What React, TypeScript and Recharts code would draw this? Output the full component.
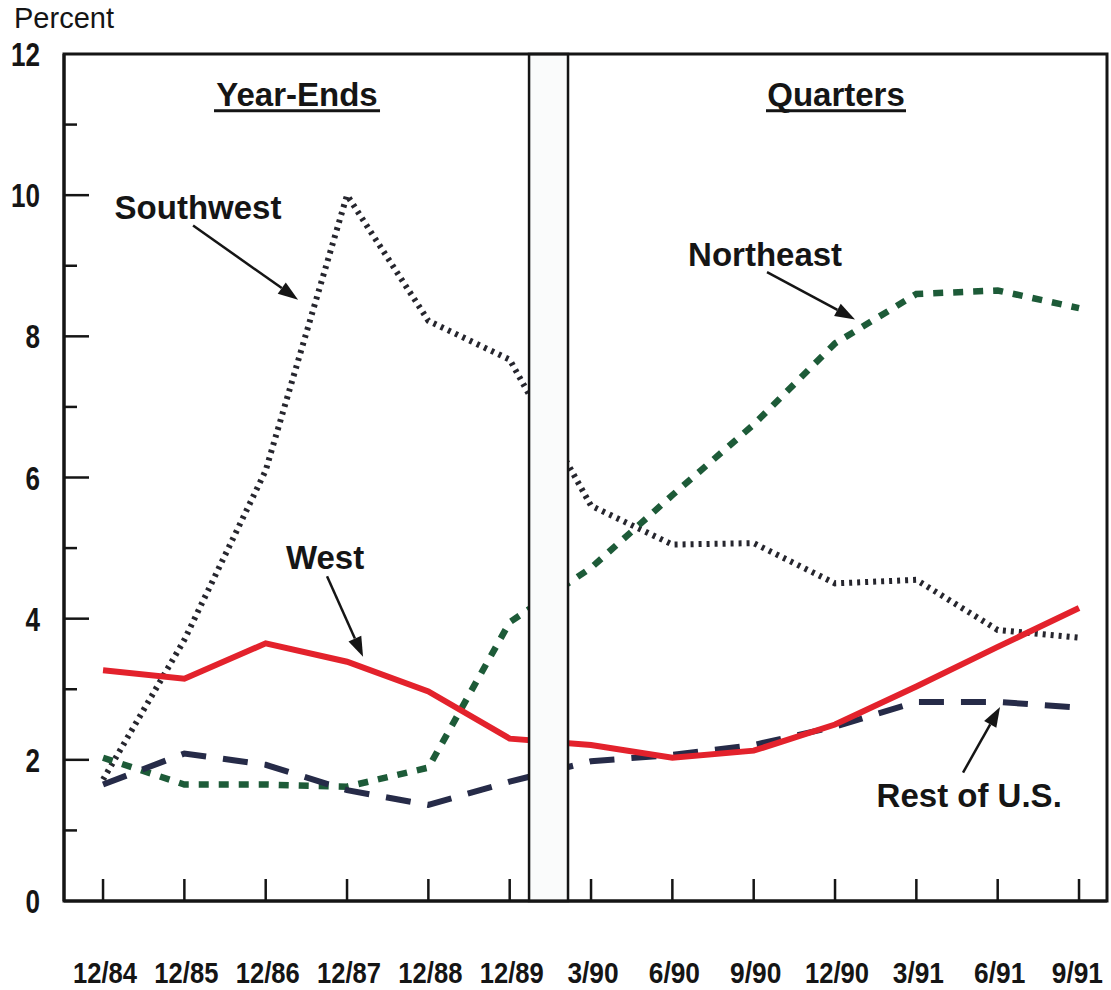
import React from 'react';
import {
  LineChart,
  Line,
  XAxis,
  YAxis,
  ReferenceArea,
  ReferenceLine,
  ReferenceDot,
} from 'recharts';

const periods = ['12/84', '12/85', '12/86', '12/87', '12/88', '12/89', '3/90', '6/90', '9/90', '12/90', '3/91', '6/91', '9/91'];
const southwest = [1.72, 3.7, 6.1, 10.0, 8.22, 7.67, 5.6, 5.05, 5.07, 4.5, 4.55, 3.84, 3.73];
const northeast = [2.03, 1.65, 1.65, 1.62, 1.89, 3.95, 4.72, 5.75, 6.75, 7.9, 8.6, 8.65, 8.4];
const west = [3.27, 3.15, 3.65, 3.39, 2.97, 2.3, 2.21, 2.03, 2.13, 2.5, 3.04, 3.6, 4.15];
const restOfUS = [1.65, 2.09, 1.93, 1.57, 1.36, 1.69, 1.98, 2.07, 2.21, 2.47, 2.82, 2.82, 2.74];

const yTicks = [0, 1, 2, 3, 4, 5, 6, 7, 8, 9, 10, 11, 12];

// the break between the year-end panel and the quarterly panel (in index units)
const gapStart = 5.238;
const gapEnd = 5.717;

const xDomain = [-0.48, 12.344];

const labels = [
  { text: 'Year-Ends', x: 2.385, y: 11.43, underline: 166 },
  { text: 'Quarters', x: 9.012, y: 11.43, underline: 140 },
  { text: 'Southwest', x: 1.168, y: 9.83 },
  { text: 'West', x: 2.73, y: 4.88 },
  { text: 'Northeast', x: 8.14, y: 9.16 },
  { text: 'Rest of U.S.', x: 10.65, y: 1.5 },
];

const arrows = [
  { from: [1.107, 9.57], to: [2.398, 8.52] },
  { from: [2.754, 4.6], to: [3.197, 3.46] },
  { from: [8.164, 8.91], to: [9.246, 8.24] },
  { from: [10.574, 1.82], to: [11.029, 2.75] },
];

const data = periods.map((p, i) => ({
  i,
  period: p,
  sw: southwest[i],
  ne: northeast[i],
  west: west[i],
  rest: restOfUS[i],
}));

const FONT = '"Liberation Sans", Arial, Helvetica, sans-serif';
const INK = '#151515';

const YTick = (props: any) => {
  const { x, y, payload } = props;
  const v = payload.value as number;
  const major = v % 2 === 0;
  const s = String(v);
  return (
    <g>
      {v > 0 && v < 12 && (
        <line x1={x} y1={y} x2={x + (major ? 25 : 13)} y2={y} stroke={INK} strokeWidth={2.5} />
      )}
      {major && (
        <text
          x={x - 24}
          y={y + 12}
          textAnchor="end"
          fontFamily={FONT}
          fontWeight="bold"
          fontSize={33}
          fill={INK}
          textLength={s.length * 14.5}
          lengthAdjust="spacingAndGlyphs"
        >
          {s}
        </text>
      )}
    </g>
  );
};

const XTick = (props: any) => {
  const { x, y, payload } = props;
  const s = periods[payload.value] ?? '';
  const w = s.length * 12.8;
  // keep the last label inside the picture
  const cx = Math.min(x + 2, 1111 - 8 - w / 2);
  return (
    <g>
      <line x1={x} y1={y} x2={x} y2={y - 22} stroke={INK} strokeWidth={2.5} />
      <text
        x={cx}
        y={y + 82}
        textAnchor="middle"
        fontFamily={FONT}
        fontWeight="bold"
        fontSize={30}
        fill={INK}
        textLength={w}
        lengthAdjust="spacingAndGlyphs"
      >
        {s}
      </text>
    </g>
  );
};

const ArrowShape = (props: any) => {
  const { x1, y1, x2, y2 } = props;
  const dx = x2 - x1;
  const dy = y2 - y1;
  const len = Math.sqrt(dx * dx + dy * dy);
  const ux = dx / len;
  const uy = dy / len;
  const head = 20;
  const half = 7;
  const bx = x2 - ux * head;
  const by = y2 - uy * head;
  return (
    <g>
      <line x1={x1} y1={y1} x2={bx} y2={by} stroke={INK} strokeWidth={2.5} />
      <polygon
        points={`${x2},${y2} ${bx - uy * half},${by + ux * half} ${bx + uy * half},${by - ux * half}`}
        fill={INK}
      />
    </g>
  );
};

const makeLabel = (text: string, underline?: number) => (props: any) => {
  const { cx, cy } = props;
  return (
    <g>
      <text
        x={cx}
        y={cy + 12}
        textAnchor="middle"
        fontFamily={FONT}
        fontWeight="bold"
        fontSize={33}
        fill={INK}
      >
        {text}
      </text>
      {underline && (
        <rect x={cx - underline / 2} y={cy + 15} width={underline} height={3} fill={INK} />
      )}
    </g>
  );
};

const App: React.FC = () => {
  return (
    <div style={{ position: 'absolute', left: 0, top: 0, width: 1111, height: 990, background: '#fff' }}>
      <div
        style={{
          position: 'absolute',
          left: 14,
          top: 2,
          fontFamily: FONT,
          fontSize: 29,
          color: INK,
          zIndex: 2,
        }}
      >
        Percent
      </div>
      <LineChart
        width={1111}
        height={990}
        data={data}
        margin={{ top: 54, right: 4, left: 0, bottom: 0 }}
      >
        <XAxis
          type="number"
          dataKey="i"
          domain={xDomain}
          ticks={yTicks}
          interval={0}
          height={89}
          tickSize={0}
          tickMargin={0}
          axisLine={{ stroke: INK, strokeWidth: 3 }}
          tickLine={false}
          tick={(p: any) => <XTick {...p} />}
        />
        <YAxis
          type="number"
          domain={[0, 12]}
          ticks={yTicks}
          interval={0}
          width={64}
          tickSize={0}
          tickMargin={0}
          axisLine={{ stroke: INK, strokeWidth: 3 }}
          tickLine={false}
          tick={(p: any) => <YTick {...p} />}
        />
        <Line
          type="linear"
          dataKey="sw"
          stroke="#26262e"
          strokeWidth={6}
          strokeDasharray="3 5"
          dot={false}
          activeDot={false}
          isAnimationActive={false}
        />
        <Line
          type="linear"
          dataKey="ne"
          stroke="#1d5b38"
          strokeWidth={6.5}
          strokeDasharray="10 10"
          dot={false}
          activeDot={false}
          isAnimationActive={false}
        />
        <Line
          type="linear"
          dataKey="rest"
          stroke="#262b48"
          strokeWidth={6}
          strokeDasharray="25 17"
          dot={false}
          activeDot={false}
          isAnimationActive={false}
        />
        <Line
          type="linear"
          dataKey="west"
          stroke="#e3222c"
          strokeWidth={6}
          dot={false}
          activeDot={false}
          isAnimationActive={false}
        />
        <ReferenceArea
          x1={gapStart}
          x2={gapEnd}
          y1={0}
          y2={12}
          fill="#fafbfb"
          fillOpacity={1}
          stroke={INK}
          strokeWidth={2.5}
          ifOverflow="visible"
          zIndex={900}
        />
        <ReferenceArea
          x1={xDomain[0]}
          x2={xDomain[1]}
          y1={0}
          y2={12}
          fill="none"
          stroke={INK}
          strokeWidth={3}
          ifOverflow="visible"
          zIndex={900}
        />
        {arrows.map((a, k) => (
          <ReferenceLine
            key={`arrow-${k}`}
            segment={[
              { x: a.from[0], y: a.from[1] },
              { x: a.to[0], y: a.to[1] },
            ]}
            ifOverflow="visible"
            shape={(p: any) => <ArrowShape {...p} />}
            zIndex={950}
          />
        ))}
        {labels.map((l) => (
          <ReferenceDot
            key={l.text}
            x={l.x}
            y={l.y}
            r={0}
            ifOverflow="visible"
            shape={makeLabel(l.text, l.underline)}
            zIndex={950}
          />
        ))}
      </LineChart>
    </div>
  );
};

export default App;
